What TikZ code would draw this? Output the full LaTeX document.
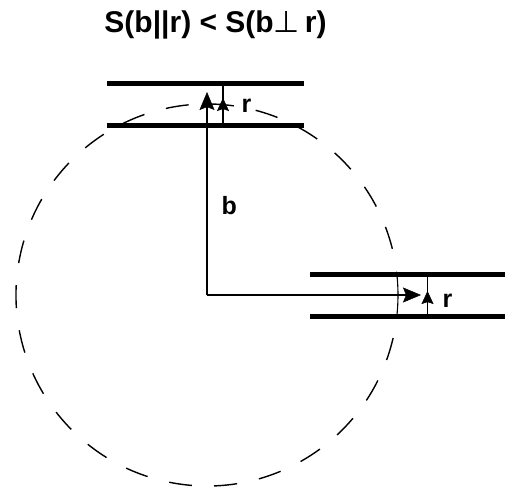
\documentclass[tikz,border=0pt]{standalone}
\usepackage{fontspec}
\setmainfont{Liberation Sans}
\newfontfamily\symfont{DejaVu Sans}
\usetikzlibrary{arrows.meta}
\begin{document}
\begin{tikzpicture}[x=1pt,y=-1pt,
  slab/.style={line width=5pt},
  vec/.style={line width=1.9pt,-{Stealth[length=18pt,width=15pt,inset=3pt,line width=0.5pt]}},
  rvec/.style={line width=1.9pt,-{Stealth[length=13pt,width=12pt,inset=2pt,line width=0.5pt]}},
  rline/.style={line width=1.9pt},
  circ/.style={line width=1.4pt,dash pattern=on 23pt off 22.3pt},
  arcsolid/.style={line width=1.1pt},
  lab/.style={font=\bfseries\fontsize{25}{28}\selectfont,inner sep=0pt,anchor=base west},
  ttl/.style={font=\bfseries\fontsize{30}{34}\selectfont,inner sep=0pt,anchor=base}]
\useasboundingbox (0,0) rectangle (505,493);
\coordinate (O) at (207,295);
% circle
\draw[circ] (O) ++(13:191) arc[start angle=13, end angle=347, radius=191];
\draw[arcsolid] (O) ++(-7:191) arc[start angle=-7, end angle=7, radius=191];
% top slab
\coordinate (T1a) at (107,83);  \coordinate (T1b) at (304,83);
\coordinate (T2a) at (107,125); \coordinate (T2b) at (304,125);
\draw[slab] (T1a) -- (T1b);
\draw[slab] (T2a) -- (T2b);
% bottom slab
\coordinate (B1a) at (310,274); \coordinate (B1b) at (505,274);
\coordinate (B2a) at (310,316); \coordinate (B2b) at (505,316);
\draw[slab] (B1a) -- (B1b);
\draw[slab] (B2a) -- (B2b);
% b vectors
\coordinate (bT) at (207,92);
\coordinate (bR) at (421,295);
\draw[vec] (O) -- (bT);
\draw[vec] (O) -- (bR);
% r vectors
\coordinate (rt0) at (223,125); \coordinate (rt1) at (223,83); \coordinate (rtm) at (223,98);
\draw[rline] (rt0) -- (rt1);
\draw[rvec] (rt0) -- (rtm);
\coordinate (rb0) at (427.5,316); \coordinate (rb1) at (427.5,274); \coordinate (rbm) at (427.5,291);
\draw[rline] (rb0) -- (rb1);
\draw[rvec] (rb0) -- (rbm);
% labels
\node[lab] (lb) at (221.5,214) {b};
\node[lab] (lrt) at (241.5,112) {r};
\node[lab] (lrb) at (442.5,307) {r};
\node[ttl] (title) at (215.5,32) {S(b||r) < S(b{\symfont\mdseries ⊥}\,r)};
\end{tikzpicture}
\end{document}
